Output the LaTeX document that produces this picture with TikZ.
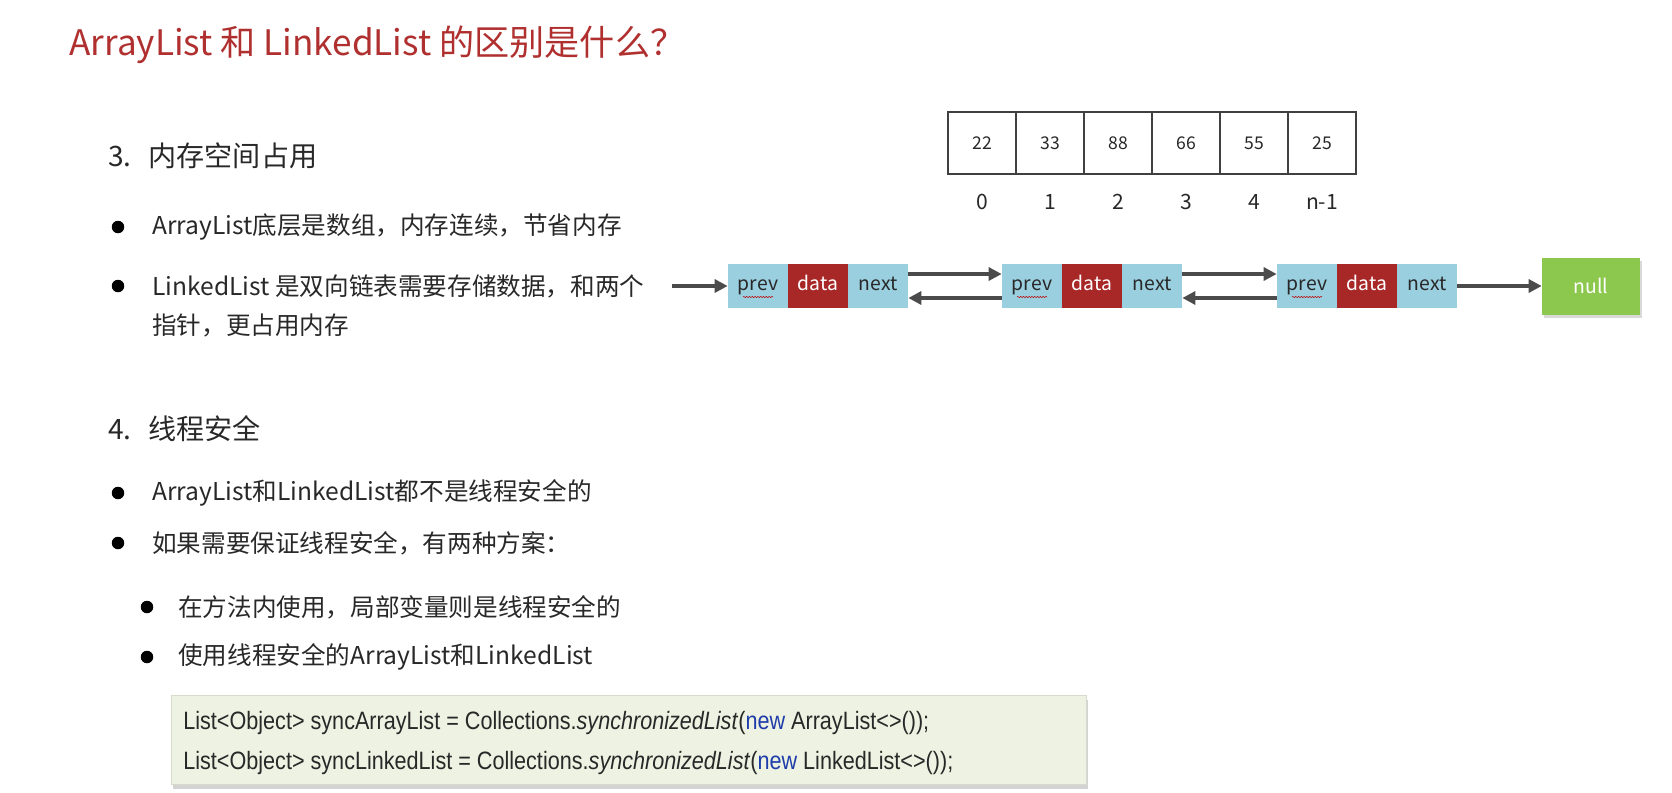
\documentclass[tikz,border=0pt]{standalone}
\usepackage{fontspec}
\setmainfont{Noto Sans CJK SC}
\newfontfamily\codefont[FakeStretch=0.86]{Liberation Sans}
\usetikzlibrary{
	arrows.meta,
	calc,
	shadows,
	decorations.pathmorphing}
\definecolor{titlered}{RGB}{176,48,48}
\definecolor{bodytext}{RGB}{40,40,40}
\definecolor{ptrblue}{RGB}{154,207,224}
\definecolor{datared}{RGB}{168,40,40}
\definecolor{nullgreen}{RGB}{141,200,78}
\definecolor{arrowgray}{RGB}{75,75,75}
\definecolor{codebg}{RGB}{238,242,226}
\definecolor{codeborder}{RGB}{214,219,204}
\definecolor{kwblue}{RGB}{30,60,170}

\begin{document}
\begin{tikzpicture}[x=0.02cm,y=-0.02cm,
  every node/.style={text=bodytext},
  heading/.style={anchor=west,inner sep=0,font=\fontsize{16}{18}\selectfont},
  item/.style={anchor=west,inner sep=0,font=\fontsize{14}{17}\selectfont},
  dot/.style={circle,fill=black,minimum size=0.25cm,inner sep=0},
  cell/.style={draw=black!75,line width=0.8pt,minimum width=1.36cm,minimum height=1.24cm,inner sep=0,
    text height=1.5ex,text depth=0.2ex,font=\fontsize{10}{12}\selectfont},
  index/.style={inner sep=0,font=\fontsize{12}{14}\selectfont},
  part/.style={minimum width=1.2cm,minimum height=0.88cm,inner sep=0,text height=1.5ex,text depth=0.5ex,
    font=\fontsize{11}{13}\selectfont},
  ptr/.style={part,fill=ptrblue},
  val/.style={part,fill=datared,text=white},
  link/.style={draw=arrowgray,line width=1.8pt,-{Triangle[length=2.6mm,width=2.6mm]}},
  codetext/.style={anchor=west,inner sep=0,font=\codefont\fontsize{14.3}{16}\selectfont}]
  \useasboundingbox (0,0) rectangle (1672,792);

    % Text
  \node[anchor=west,inner sep=0,text=titlered,font=\fontsize{20}{24}\selectfont] (title) at (69,45) {ArrayList 和 LinkedList 的区别是什么？};
  \node[heading] (h3) at (108,156) {3.\hspace{0.6em}内存空间占用};
  \node[dot] (d1) at (118,227) {};
  \node[item] (t1) at (152,227) {ArrayList底层是数组，内存连续，节省内存};
  \node[dot] (d2) at (118,286) {};
  \node[item] (t2) at (152,286) {LinkedList 是双向链表需要存储数据，和两个};
  \node[item] (t2b) at (152,325) {指针，更占用内存};
  \node[heading] (h4) at (108,429) {4.\hspace{0.6em}线程安全};
  \node[dot] (d3) at (118,493) {};
  \node[item] (t3) at (152,493) {ArrayList和LinkedList都不是线程安全的};
  \node[dot] (d4) at (118,543) {};
  \node[item] (t4) at (152,543) {如果需要保证线程安全，有两种方案：};
  \node[dot] (d5) at (147,607) {};
  \node[item] (t5) at (178,607) {在方法内使用，局部变量则是线程安全的};
  \node[dot] (d6) at (147,657) {};
  \node[item] (t6) at (178,657) {使用线程安全的ArrayList和LinkedList};

    % Code
  \node[draw=codeborder,fill=codebg,anchor=north west,inner sep=0,minimum width=18.3cm,minimum height=1.78cm,
    drop shadow={opacity=0.35,shadow xshift=0.4mm,shadow yshift=-0.9mm}] (box) at (171,695) {};
  \node[codetext] (c1) at (183,723) {List<Object> syncArrayList = Collections.\textit{synchronizedList}(\textcolor{kwblue}{new} ArrayList<>());};
  \node[codetext] (c2) at (183,763) {List<Object> syncLinkedList = Collections.\textit{synchronizedList}(\textcolor{kwblue}{new} LinkedList<>());};

    % Array
  \node[cell] (A0) at (982,143) {22};
  \node[cell] (A1) at (1050,143) {33};
  \node[cell] (A2) at (1118,143) {88};
  \node[cell] (A3) at (1186,143) {66};
  \node[cell] (A4) at (1254,143) {55};
  \node[cell] (A5) at (1322,143) {25};
  \node[index] (I0) at (982,202) {0};
  \node[index] (I1) at (1050,202) {1};
  \node[index] (I2) at (1118,202) {2};
  \node[index] (I3) at (1186,202) {3};
  \node[index] (I4) at (1254,202) {4};
  \node[index] (I5) at (1322,202) {n-1};

    % Linked list
  \node[ptr] (P1) at (758,286) {prev};
  \node[val] (D1) at (818,286) {data};
  \node[ptr] (N1) at (878,286) {next};
  \node[ptr] (P2) at (1032,286) {prev};
  \node[val] (D2) at (1092,286) {data};
  \node[ptr] (N2) at (1152,286) {next};
  \node[ptr] (P3) at (1307,286) {prev};
  \node[val] (D3) at (1367,286) {data};
  \node[ptr] (N3) at (1427,286) {next};
  \node[fill=nullgreen,text=white,minimum width=1.96cm,minimum height=1.14cm,inner sep=0,
    font=\fontsize{11}{13}\selectfont,drop shadow={opacity=0.3,shadow xshift=0.4mm,shadow yshift=-0.6mm}] (null) at (1591,286) {null};
  \coordinate (head) at (672,286);

  \draw [link] (head) to (P1);
  \draw [link] ([yshift=0.24cm]N1.east) to ([yshift=0.24cm]P2.west);
  \draw [link] ([yshift=-0.24cm]P2.west) to ([yshift=-0.24cm]N1.east);
  \draw [link] ([yshift=0.24cm]N2.east) to ([yshift=0.24cm]P3.west);
  \draw [link] ([yshift=-0.24cm]P3.west) to ([yshift=-0.24cm]N2.east);
  \draw [link] (N3) to (null);
  \foreach \p in {P1,P2,P3}
    \draw [red!75!black,line width=0.3pt,decorate,decoration={snake,amplitude=0.35pt,segment length=1.6pt}]
      ($(\p.center)+(-15,11)$) to ($(\p.center)+(15,11)$);

\end{tikzpicture}
\end{document}
